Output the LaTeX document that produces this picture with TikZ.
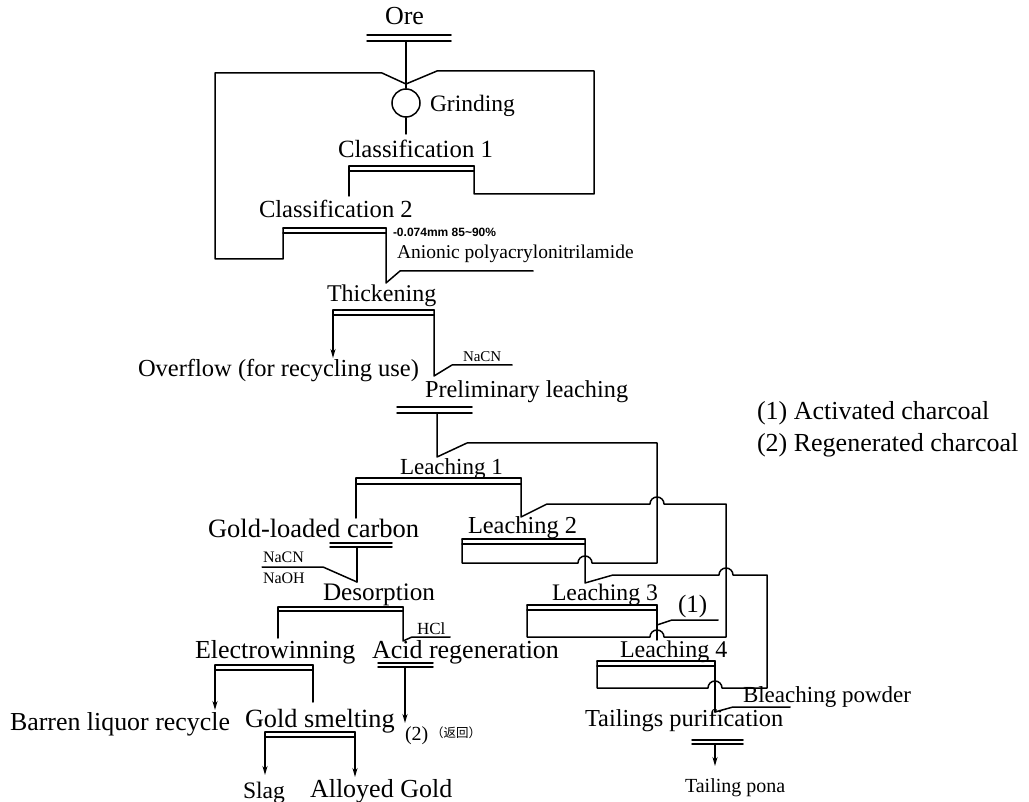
\documentclass[tikz,border=0pt]{standalone}
\usepackage{fontspec}
\setmainfont{Liberation Serif}
\newfontfamily\cjk{Noto Sans CJK SC}
\newfontfamily\sansf{Liberation Sans}
\usetikzlibrary{arrows.meta}
\newcommand\fsz[1]{\fontsize{#1}{#1}\selectfont}
\newcommand\dbar[4]{\draw[ln] (#1,#3) -- (#2,#3); \draw[ln] (#1,#3+#4) -- (#2,#3+#4);}
\tikzset{
  ln/.style={line width=1.5pt, line cap=round, line join=round},
  arr/.style={ln, -{Stealth[length=9pt,width=5pt]}},
  lbl/.style={anchor=base west, inner sep=0pt, outer sep=0pt},
  hopR/.style 2 args={insert path={-- (#1-7,#2) arc[start angle=180,end angle=0,radius=7pt]}},
  hopL/.style 2 args={insert path={-- (#1+7,#2) arc[start angle=0,end angle=180,radius=7pt]}},
}
\begin{document}
\begin{tikzpicture}[x=1pt,y=-1pt]
\fill[white] (0,0) rectangle (1029,802);
\useasboundingbox (0,0) rectangle (1029,802);

% ---- Ore and grinding
\node[lbl,font={\fsz{26}}] (ore) at (385,25) {Ore};
\dbar{367}{451}{35}{6}
\coordinate (j0) at (406,84);
\draw[ln] (406,41) -- (j0);
\node[draw, circle, line width=1.5pt, minimum size=28pt, inner sep=0pt] (mill) at (406,103) {};
\draw[ln] (j0) -- (mill.north);
\node[lbl,font={\fsz{23.5}}] (grind) at (430,112) {Grinding};
\draw[ln] (mill.south) -- (406,134);

% ---- Classification 1
\node[lbl,font={\fsz{24.8}}] (c1) at (338,158) {Classification 1};
\dbar{349}{474}{166}{5}
\draw[ln] (349,166) -- (349,196);
\draw[ln] (474,166) -- (474,194) -- (594,194) -- (594,71) -- (437,71) -- (j0);

% ---- Classification 2
\node[lbl,font={\fsz{24.6}}] (c2) at (259,218) {Classification 2};
\dbar{283}{386}{228}{5}
\draw[ln] (283,228) -- (283,259) -- (215,259) -- (215,73) -- (382,73) -- (j0);
\draw[ln] (386,228) -- (386,283) -- (400,271) -- (533,271);
\node[lbl,font={\sansf\bfseries\fsz{12}}] (mesh) at (393,237) {-0.074mm 85\textasciitilde 90\%};
\node[lbl,font={\fsz{19.5}}] (anionic) at (397,259) {Anionic polyacrylonitrilamide};

% ---- Thickening
\node[lbl,font={\fsz{24}}] (thick) at (327,302) {Thickening};
\dbar{333}{434}{310}{5}
\draw[arr] (333,310) -- (333,358);
\node[lbl,font={\fsz{24.5}}] (over) at (138,377) {Overflow (for recycling use)};
\draw[ln] (434,310) -- (434,376) -- (452,365) -- (512,365);
\node[lbl,font={\fsz{15}}] (nacn1) at (463,362) {NaCN};

% ---- Preliminary leaching
\node[lbl,font={\fsz{24.3}}] (prelim) at (425,398) {Preliminary leaching};
\dbar{397}{472}{407}{6}

% ---- Leaching 1
\node[lbl,font={\fsz{23}}] (l1) at (400,475) {Leaching 1};
\dbar{356}{521}{478}{6}
\draw[ln] (437,413) -- (437,457) -- (467,443) -- (657,443) -- (657,563) [hopL={585}{563}] -- (462,563) -- (462,539);
\draw[ln] (521,478) -- (521,517) -- (547,504) [hopR={657}{504}] -- (726,504) -- (726,637) [hopL={657}{637}] -- (527,637) -- (527,605);

% ---- Leaching 2
\node[lbl,font={\fsz{24.4}}] (l2) at (468,533) {Leaching 2};
\dbar{462}{585}{539}{5}
\draw[ln] (585,539) -- (585,583) -- (613,575) [hopR={726}{575}] -- (767,575) -- (767,688) [hopL={715}{688}] -- (597,688) -- (597,661);

% ---- Leaching 3
\node[lbl,font={\fsz{23.7}}] (l3) at (552,600) {Leaching 3};
\dbar{527}{657}{605}{5}
\draw[ln] (657,605) -- (657,640);
\draw[ln] (657,625) -- (672,620) -- (718,620);
\node[lbl,font={\fsz{25}}] (one) at (678,612) {(1)};

% ---- Leaching 4
\node[lbl,font={\fsz{24}}] (l4) at (620,657) {Leaching 4};
\dbar{597}{715}{661}{5}
\draw[ln] (715,661) -- (715,712);
\draw[ln] (715,712) -- (733,707) -- (790,707);
\node[lbl,font={\fsz{23}}] (bleach) at (743,702) {Bleaching powder};

% ---- Tailings
\node[lbl,font={\fsz{24.4}}] (tails) at (585,726) {Tailings purification};
\dbar{692}{743}{740}{4}
\draw[arr] (715,744) -- (715,766);
\node[lbl,font={\fsz{20}}] (pond) at (685,792) {Tailing pona};

% ---- Carbon branch
\draw[ln] (356,478) -- (356,518);
\node[lbl,font={\fsz{26.5}}] (glc) at (208,537) {Gold-loaded carbon};
\dbar{330}{392}{543}{4}
\draw[ln] (357,547) -- (357,582);
\draw[ln] (262,567) -- (323,567) -- (357,582);
\node[lbl,font={\fsz{16}}] (nacn2) at (263,562) {NaCN};
\node[lbl,font={\fsz{16}}] (naoh) at (263,583) {NaOH};

\node[lbl,font={\fsz{25.2}}] (desorp) at (323,600) {Desorption};
\dbar{278}{403}{607}{4}
\draw[ln] (278,607) -- (278,638);
\draw[ln] (403,607) -- (403,641) -- (412,637) -- (450,637);
\node[lbl,font={\fsz{17}}] (hcl) at (417,634) {HCl};

\node[lbl,font={\fsz{26}}] (ew) at (195,658) {Electrowinning};
\node[lbl,font={\fsz{26}}] (acid) at (372,658) {Acid regeneration};
\dbar{215}{313}{665}{5}
\draw[arr] (215,665) -- (215,710);
\draw[ln] (313,665) -- (313,702);
\dbar{378}{433}{663}{4}
\draw[arr] (405,667) -- (405,723);

\node[lbl,font={\fsz{25.9}}] (barren) at (10,730) {Barren liquor recycle};
\node[lbl,font={\fsz{26.3}}] (smelt) at (245,727) {Gold smelting};
\node[lbl,font={\fsz{20}}] (two) at (405,740) {(2)};
\node[lbl,font={\cjk\fsz{12.5}}] (ret) at (431,737) {（返回）};
\dbar{265}{355}{732}{5}
\draw[arr] (265,732) -- (265,775);
\draw[arr] (355,732) -- (355,777);
\node[lbl,font={\fsz{23.6}}] (slag) at (243,798) {Slag};
\node[lbl,font={\fsz{26}}] (alloy) at (310,797) {Alloyed Gold};

% ---- Legend
\node[lbl,font={\fsz{26}}] (leg1) at (757,420) {(1) Activated charcoal};
\node[lbl,font={\fsz{26}}] (leg2) at (757,451) {(2) Regenerated charcoal};
\end{tikzpicture}
\end{document}
